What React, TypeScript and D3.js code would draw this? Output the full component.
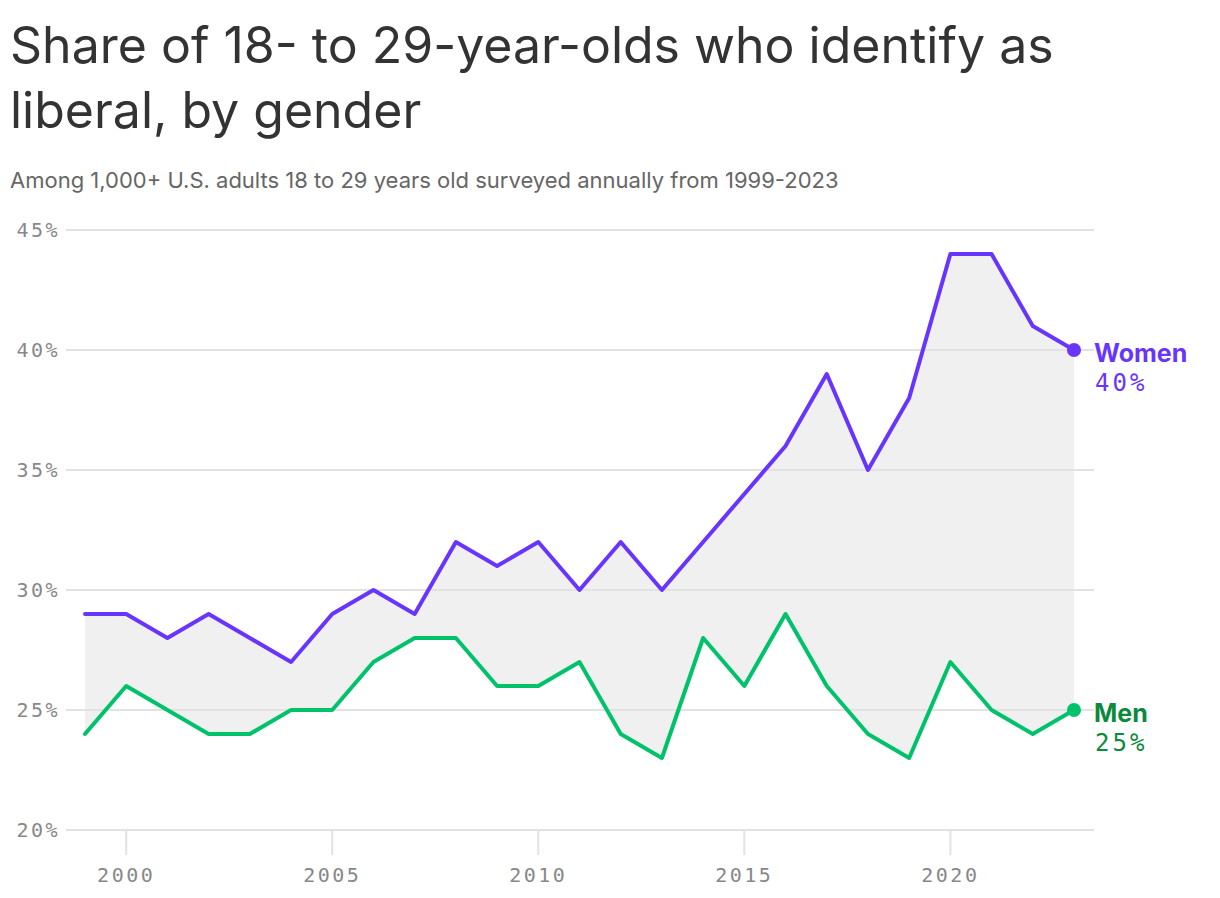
import React, {useRef, useEffect} from 'react';
import * as d3 from 'd3';

const years = d3.range(1999, 2024);
const women = [29, 29, 28, 29, 28, 27, 29, 30, 29, 32, 31, 32, 30, 32, 30, 32, 34, 36, 39, 35, 38, 44, 44, 41, 40];
const men = [24, 26, 25, 24, 24, 25, 25, 27, 28, 28, 26, 26, 27, 24, 23, 28, 26, 29, 26, 24, 23, 27, 25, 24, 25];
const yTicks = [20, 25, 30, 35, 40, 45];
const xTicks = [2000, 2005, 2010, 2015, 2020];

const W = 1220;
const H = 898;
const WOMEN_COLOR = '#6835ff';
const MEN_COLOR = '#00c26b';
const MEN_TEXT = '#0a8a3c';
const SANS = 'Inter, "Noto Sans", sans-serif';
const MONO = '"DejaVu Sans Mono", "Liberation Mono", monospace';

const App: React.FC = () => {
    const svgRef = useRef<SVGSVGElement>(null);

    useEffect(() => {
        if (!svgRef.current) return;
        const svg = d3.select(svgRef.current);
        svg.selectAll('*').remove();

        const x = d3.scaleLinear().domain([1999, 2023]).range([85, 1074]);
        const y = d3.scaleLinear().domain([20, 45]).range([830, 230]);

        // 標題
        svg.append('text').attr('x', 10).attr('y', 63)
            .style('font-family', SANS).style('font-size', '50px').style('fill', '#333')
            .text('Share of 18- to 29-year-olds who identify as');
        svg.append('text').attr('x', 10).attr('y', 128)
            .style('font-family', SANS).style('font-size', '50px').style('fill', '#333')
            .text('liberal, by gender');
        svg.append('text').attr('x', 10).attr('y', 188)
            .style('font-family', SANS).style('font-size', '22px').style('fill', '#666')
            .text('Among 1,000+ U.S. adults 18 to 29 years old surveyed annually from 1999-2023');

        // 兩線之間的區域
        const band = d3.area<number>()
            .x(i => x(years[i]))
            .y0(i => y(men[i]))
            .y1(i => y(women[i]));
        svg.append('path')
            .datum(d3.range(years.length))
            .attr('d', band)
            .style('fill', '#f0f0f0');

        // 格線
        yTicks.forEach(t => {
            svg.append('line')
                .attr('x1', 66).attr('x2', 1094)
                .attr('y1', y(t)).attr('y2', y(t))
                .style('stroke', '#e2e2e2').style('stroke-width', 2);
            svg.append('text')
                .attr('x', 60).attr('y', y(t) + 7)
                .attr('text-anchor', 'end')
                .style('font-family', MONO).style('font-size', '20px').style('fill', '#888')
                .style('letter-spacing', '2.5px')
                .text(`${t}%`);
        });

        xTicks.forEach(t => {
            svg.append('line')
                .attr('x1', x(t)).attr('x2', x(t))
                .attr('y1', y(20)).attr('y2', 855)
                .style('stroke', '#e2e2e2').style('stroke-width', 2);
            svg.append('text')
                .attr('x', x(t)).attr('y', 882)
                .attr('text-anchor', 'middle')
                .style('font-family', MONO).style('font-size', '20px').style('fill', '#888')
                .style('letter-spacing', '2.5px')
                .text(t);
        });

        // 線條
        const series = [
            {name: 'Women', values: women, color: WOMEN_COLOR, text: WOMEN_COLOR},
            {name: 'Men', values: men, color: MEN_COLOR, text: MEN_TEXT},
        ];
        series.forEach(s => {
            const line = d3.line<number>()
                .x((_, i) => x(years[i]))
                .y(d => y(d));
            svg.append('path')
                .datum(s.values)
                .attr('d', line)
                .style('fill', 'none')
                .style('stroke', s.color)
                .style('stroke-width', 4)
                .style('stroke-linejoin', 'round')
                .style('stroke-linecap', 'round');
            const last = s.values[s.values.length - 1];
            svg.append('circle')
                .attr('cx', x(2023)).attr('cy', y(last)).attr('r', 7)
                .style('fill', s.color);
            svg.append('text')
                .attr('x', x(2023) + 20).attr('y', y(last) + 12)
                .style('font-family', SANS).style('font-size', '25px').style('font-weight', 'bold')
                .style('fill', s.text)
                .text(s.name);
            svg.append('text')
                .attr('x', x(2023) + 21).attr('y', y(last) + 41)
                .style('font-family', MONO).style('font-size', '24px')
                .style('letter-spacing', '3px')
                .style('fill', s.text)
                .text(`${last}%`);
        });
    }, []);

    return (
        <svg
            ref={svgRef}
            width={W}
            height={H}
            viewBox={`0 0 ${W} ${H}`}
            style={{position: 'absolute', left: 0, top: 0, background: '#fff'}}
        />
    );
};

export default App;
